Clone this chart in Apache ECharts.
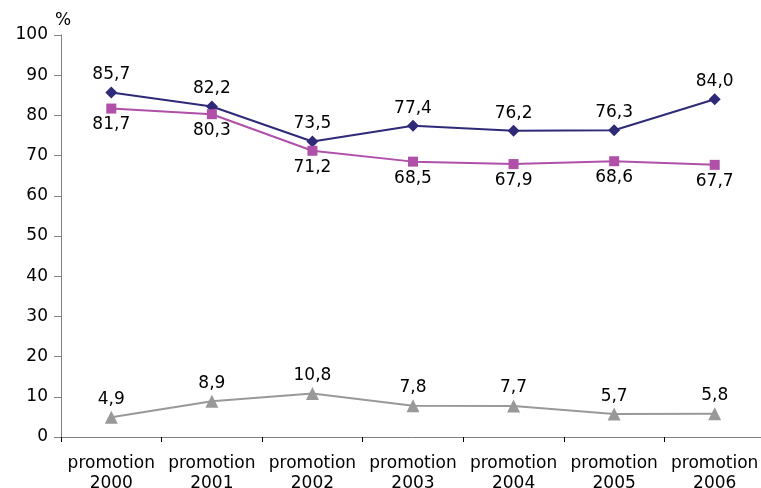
<!DOCTYPE html>
<html>
<head>
<meta charset="utf-8">
<script src="https://cdn.jsdelivr.net/npm/echarts@6/dist/echarts.min.js"></script>
<style>html,body{margin:0;padding:0;background:#fff}#c{width:761px;height:488px}</style>
</head>
<body>
<div id="c"></div>
<script>
var categories = ['promotion\n2000','promotion\n2001','promotion\n2002','promotion\n2003','promotion\n2004','promotion\n2005','promotion\n2006'];
var seriesA = [85.7, 82.2, 73.5, 77.4, 76.2, 76.3, 84.0];
var seriesB = [81.7, 80.3, 71.2, 68.5, 67.9, 68.6, 67.7];
var seriesC = [4.9, 8.9, 10.8, 7.8, 7.7, 5.7, 5.8];
var yTicks = [0, 10, 20, 30, 40, 50, 60, 70, 80, 90, 100];

var font = 'DejaVu Sans, Arial, sans-serif';
function fmt(p){ return p.value.toFixed(1).replace('.', ','); }
function lbl(pos){ return {show:true, position:pos, distance:3, formatter:fmt, color:'#000', fontSize:17, fontFamily:font}; }

var chart = echarts.init(document.getElementById('c'), null, {renderer:'canvas'});
chart.setOption({
  animation:false,
  backgroundColor:'#fff',
  grid:{left:61, width:704, top:35, bottom:51, containLabel:false, outerBoundsMode:'none'},
  xAxis:{
    type:'category', data:categories, boundaryGap:true,
    axisLine:{lineStyle:{color:'#808080', width:1}},
    axisTick:{show:true, length:5, lineStyle:{color:'#000'}},
    axisLabel:{color:'#000', fontSize:17, fontFamily:font, lineHeight:20, margin:17, interval:0},
    splitLine:{show:false}
  },
  yAxis:{
    type:'value', min:yTicks[0], max:yTicks[yTicks.length-1], interval:10,
    name:'%', nameLocation:'end', nameGap:6,
    nameTextStyle:{color:'#000', fontSize:17, fontFamily:font, align:'center', padding:[0,0,0,4]},
    axisLine:{show:true, lineStyle:{color:'#808080'}},
    axisTick:{show:true, length:7, lineStyle:{color:'#808080'}},
    axisLabel:{color:'#000', fontSize:17, fontFamily:font, margin:13},
    splitLine:{show:false}
  },
  series:[
    {type:'line', data:seriesA, symbol:'diamond', symbolSize:12, color:'#2E2A78',
     lineStyle:{width:2, color:'#2E2A78'}, itemStyle:{color:'#2E2A78'}, label:lbl('top')},
    {type:'line', data:seriesB, symbol:'rect', symbolSize:10, color:'#B050A8',
     lineStyle:{width:2, color:'#B050A8'}, itemStyle:{color:'#B050A8'}, label:lbl('bottom')},
    {type:'line', data:seriesC, symbol:'triangle', symbolSize:13, color:'#999999',
     lineStyle:{width:2, color:'#999999'}, itemStyle:{color:'#999999'}, label:lbl('top')}
  ]
});
</script>
</body>
</html>
